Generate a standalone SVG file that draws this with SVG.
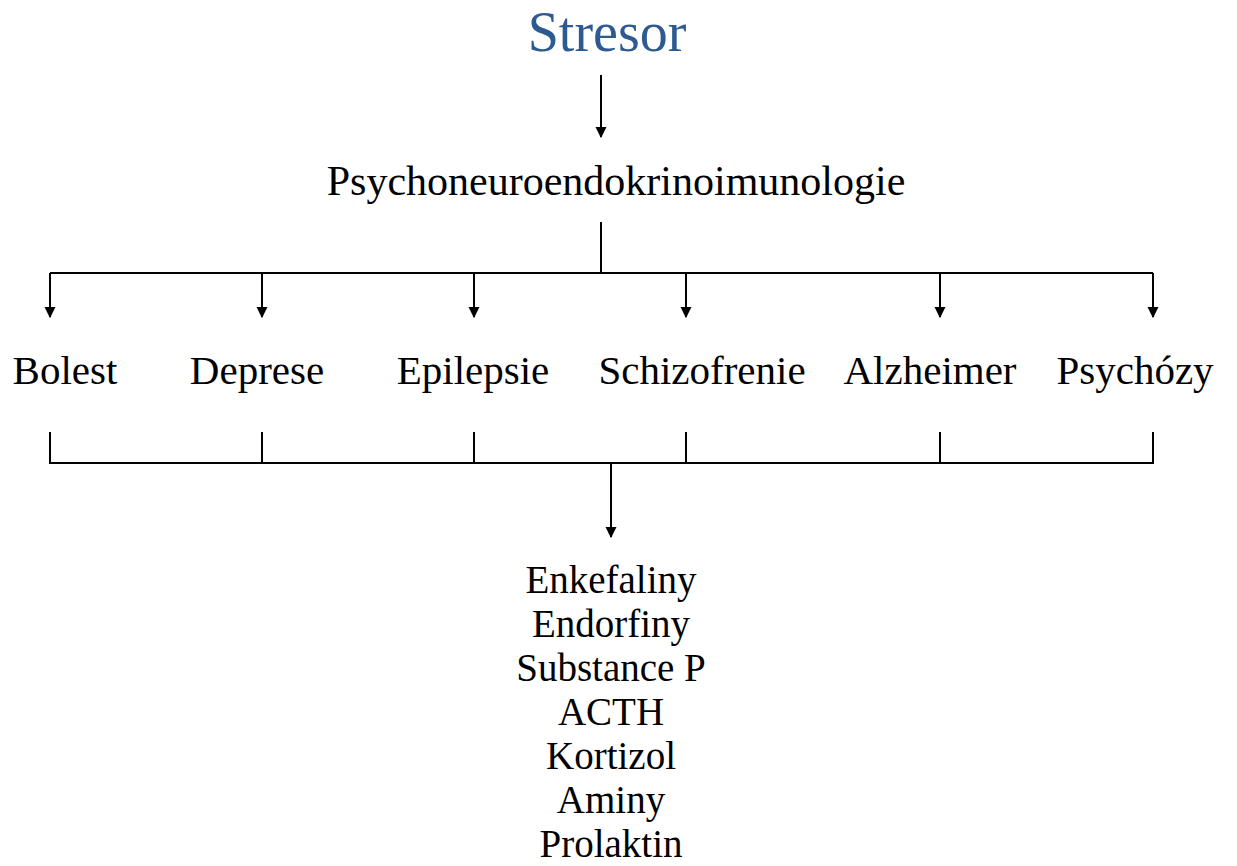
<svg xmlns="http://www.w3.org/2000/svg" width="1237" height="866" viewBox="0 0 1237 866">
<defs>
<style>
.t{font-family:"Liberation Serif","Times New Roman",serif;fill:#000;text-anchor:middle}
.l{font-size:41px}
.p{font-size:42px}
.s{font-size:39px}
.c{stroke:#000;stroke-width:2;fill:none}
</style>
<marker id="ah" viewBox="0 0 10 10" refX="9" refY="5" markerWidth="5.5" markerHeight="6" markerUnits="strokeWidth" orient="auto">
<path d="M0,0 L10,5 L0,10 Z" fill="#000"/>
</marker>
</defs>
<rect width="1237" height="866" fill="#fff"/>
<g id="connectors">
<line class="c" x1="601" y1="75" x2="601" y2="137" marker-end="url(#ah)"/>
<line class="c" x1="601" y1="222" x2="601" y2="273"/>
<line class="c" x1="50" y1="273" x2="1153" y2="273"/>
<line class="c" x1="50" y1="273" x2="50" y2="317" marker-end="url(#ah)"/>
<line class="c" x1="262" y1="273" x2="262" y2="317" marker-end="url(#ah)"/>
<line class="c" x1="474" y1="273" x2="474" y2="317" marker-end="url(#ah)"/>
<line class="c" x1="686" y1="273" x2="686" y2="317" marker-end="url(#ah)"/>
<line class="c" x1="940" y1="273" x2="940" y2="317" marker-end="url(#ah)"/>
<line class="c" x1="1153" y1="273" x2="1153" y2="317" marker-end="url(#ah)"/>
<path class="c" d="M50,432 V463 H1153 V432"/>
<line class="c" x1="262" y1="432" x2="262" y2="463"/>
<line class="c" x1="474" y1="432" x2="474" y2="463"/>
<line class="c" x1="686" y1="432" x2="686" y2="463"/>
<line class="c" x1="940" y1="432" x2="940" y2="463"/>
<line class="c" x1="611" y1="463" x2="611" y2="537" marker-end="url(#ah)"/>
</g>
<g id="stresor"><text class="t" x="607" y="51" style="font-size:56px;fill:#2D5A92">Stresor</text></g>
<g id="pnei"><text class="t p" x="616" y="195">Psychoneuroendokrinoimunologie</text></g>
<g id="bolest"><text class="t l" x="65" y="384">Bolest</text></g>
<g id="deprese"><text class="t l" x="257" y="384">Deprese</text></g>
<g id="epilepsie"><text class="t l" x="473" y="384">Epilepsie</text></g>
<g id="schizofrenie"><text class="t l" x="702" y="384">Schizofrenie</text></g>
<g id="alzheimer"><text class="t l" x="930" y="384">Alzheimer</text></g>
<g id="psychozy"><text class="t l" x="1135" y="384">Psychózy</text></g>
<g id="latky">
<text class="t s" x="611" y="593">Enkefaliny</text>
<text class="t s" x="611" y="637">Endorfiny</text>
<text class="t s" x="611" y="681">Substance P</text>
<text class="t s" x="611" y="725">ACTH</text>
<text class="t s" x="611" y="769">Kortizol</text>
<text class="t s" x="611" y="813">Aminy</text>
<text class="t s" x="611" y="857">Prolaktin</text>
</g>
</svg>
